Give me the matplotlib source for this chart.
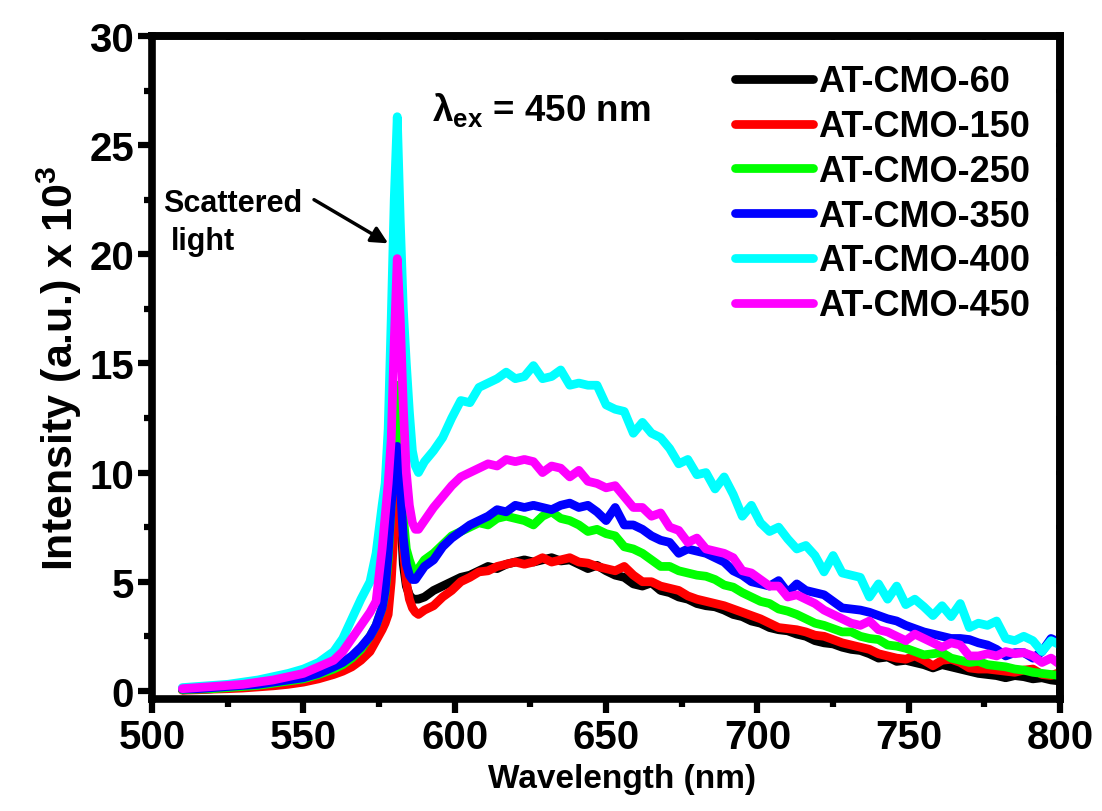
import numpy as np
import matplotlib
matplotlib.use("Agg")
import matplotlib.pyplot as plt
from matplotlib.ticker import MultipleLocator

plt.rcParams['font.family'] = ['Liberation Sans', 'DejaVu Sans']
plt.rcParams['font.weight'] = 'bold'
plt.rcParams['mathtext.fontset'] = 'custom'
plt.rcParams['mathtext.rm'] = 'Liberation Sans:bold'
plt.rcParams['mathtext.bf'] = 'Liberation Sans:bold'
plt.rcParams['mathtext.it'] = 'Liberation Sans:bold'
plt.rcParams['mathtext.default'] = 'bf'

# ---- data ----
wavelength = [510, 515, 520, 525, 530, 535, 540, 545, 550, 555,
              560, 563, 566, 569, 572, 574, 576, 577, 578, 579,
              580, 581, 582, 583, 584, 585, 586, 587, 588,
              590, 593, 596, 599, 602, 605, 608, 611, 614, 617,
              620, 623, 626, 629, 632, 635, 638, 641, 644, 647,
              650, 653, 656, 659, 662, 665, 668, 671, 674, 677,
              680, 683, 686, 689, 692, 695, 698, 701, 704, 707,
              710, 713, 716, 719, 722, 725, 728, 731, 734, 737,
              740, 743, 746, 749, 752, 755, 758, 761, 764, 767,
              770, 773, 776, 779, 782, 785, 788, 791, 794, 797,
              800]

at_cmo_60 = [0.05, 0.07, 0.1, 0.14, 0.18, 0.23, 0.3, 0.4, 0.5, 0.65,
             0.85, 1.05, 1.3, 1.6, 2.0, 2.5, 3.1, 3.6, 4.5, 6.5,
             9.5, 12.1, 8.5, 5.8, 4.8, 4.4, 4.2, 4.2, 4.2,
             4.3, 4.6, 4.8, 5.0, 5.2, 5.3, 5.5, 5.7, 5.6, 5.8,
             5.9, 6.0, 5.9, 6.0, 6.1, 5.95, 6.0, 5.8, 5.6, 5.75,
             5.5, 5.3, 5.2, 4.9, 4.8, 4.95, 4.6, 4.5, 4.3, 4.2,
             4.0, 3.9, 3.85, 3.7, 3.5, 3.4, 3.2, 3.1, 2.9, 2.8,
             2.75, 2.6, 2.5, 2.3, 2.2, 2.15, 2.0, 1.9, 1.85, 1.7,
             1.5, 1.55, 1.35, 1.4, 1.3, 1.2, 1.05, 1.2, 1.1, 1.0,
             0.9, 0.8, 0.75, 0.7, 0.6, 0.7, 0.65, 0.55, 0.6, 0.5,
             0.45]

at_cmo_150 = [0.03, 0.05, 0.08, 0.1, 0.13, 0.18, 0.23, 0.3, 0.4, 0.55,
              0.75, 0.9, 1.1, 1.4, 1.8, 2.3, 2.8, 3.1, 3.5, 5.0,
              7.5, 9.3, 9.0, 6.5, 5.0, 4.2, 3.8, 3.6, 3.5,
              3.7, 3.9, 4.3, 4.6, 5.0, 5.2, 5.45, 5.5, 5.7, 5.8,
              5.9, 5.8, 5.9, 6.1, 5.9, 6.0, 6.1, 5.9, 5.85, 5.7,
              5.6, 5.5, 5.7, 5.3, 5.0, 5.0, 4.8, 4.7, 4.6, 4.35,
              4.2, 4.1, 4.0, 3.9, 3.75, 3.6, 3.45, 3.3, 3.1, 2.9,
              2.85, 2.8, 2.7, 2.55, 2.5, 2.35, 2.2, 2.1, 2.0, 1.9,
              1.7, 1.6, 1.5, 1.45, 1.6, 1.4, 1.15, 1.4, 1.45, 1.3,
              1.05, 1.0, 1.0, 0.95, 0.9, 0.85, 0.95, 1.0, 0.75, 0.7,
              0.85]

at_cmo_250 = [0.05, 0.08, 0.1, 0.15, 0.2, 0.25, 0.35, 0.45, 0.55, 0.75,
              1.0, 1.2, 1.5, 1.9, 2.5, 3.0, 3.8, 4.5, 6.0, 8.5,
              12.0, 14.0, 11.0, 8.0, 6.5, 6.0, 5.6, 5.5, 5.6,
              6.0, 6.3, 6.7, 7.1, 7.3, 7.5, 7.7, 7.6, 7.9, 8.0,
              7.9, 7.8, 7.6, 8.0, 8.2, 7.9, 7.8, 7.6, 7.3, 7.4,
              7.2, 7.1, 6.6, 6.5, 6.3, 6.0, 5.7, 5.7, 5.5, 5.4,
              5.3, 5.25, 5.1, 4.85, 4.75, 4.5, 4.3, 4.1, 4.0, 3.75,
              3.65, 3.5, 3.3, 3.1, 3.0, 2.85, 2.7, 2.7, 2.5, 2.4,
              2.35, 2.1, 2.05, 1.95, 1.8, 1.65, 1.7, 1.75, 1.5, 1.4,
              1.3, 1.35, 1.2, 1.15, 1.1, 1.0, 0.95, 0.85, 0.8, 0.75,
              0.7]

at_cmo_350 = [0.08, 0.1, 0.15, 0.2, 0.25, 0.3, 0.4, 0.5, 0.6, 0.8,
              1.1, 1.3, 1.6, 2.0, 2.5, 3.0, 3.8, 4.6, 6.3, 8.5,
              10.3, 11.2, 9.5, 7.0, 5.8, 5.3, 5.1, 5.1, 5.3,
              5.7, 6.0, 6.6, 7.0, 7.3, 7.6, 7.8, 8.0, 8.3, 8.2,
              8.5, 8.4, 8.5, 8.4, 8.3, 8.5, 8.6, 8.4, 8.5, 8.2,
              7.8, 8.4, 7.6, 7.6, 7.4, 7.1, 6.9, 6.8, 6.3, 6.5,
              6.4, 6.3, 6.1, 5.9, 5.5, 5.3, 5.0, 4.9, 4.8, 5.05,
              4.5, 4.9, 4.6, 4.5, 4.4, 4.1, 3.8, 3.75, 3.7, 3.6,
              3.45, 3.3, 3.2, 3.0, 2.85, 2.7, 2.6, 2.5, 2.4, 2.4,
              2.35, 2.2, 2.1, 1.9, 1.6, 1.75, 1.75, 1.5, 1.8, 2.4,
              2.2]

at_cmo_400 = [0.15, 0.2, 0.25, 0.3, 0.4, 0.5, 0.65, 0.8, 1.0, 1.3,
              1.8, 2.4, 3.3, 4.2, 5.0, 6.3, 8.5, 9.5, 12.0, 17.0,
              22.5, 26.3, 21.5, 17.5, 15.0, 12.8, 11.0, 10.3, 10.0,
              10.5, 11.0, 11.6, 12.5, 13.3, 13.2, 13.9, 14.1, 14.3, 14.6,
              14.3, 14.4, 14.9, 14.3, 14.4, 14.7, 14.0, 14.1, 14.0, 14.0,
              13.1, 12.9, 12.8, 11.8, 12.3, 11.8, 11.6, 11.1, 10.4, 10.6,
              9.9, 10.0, 9.25, 9.8, 9.0, 8.0, 8.5, 7.7, 7.3, 7.5,
              6.96, 6.5, 6.66, 6.2, 5.45, 6.2, 5.4, 5.3, 5.2, 4.3,
              4.9, 4.2, 4.8, 3.95, 4.2, 3.85, 3.45, 3.9, 3.4, 4.0,
              2.9, 3.1, 3.0, 3.2, 2.4, 2.3, 2.5, 2.3, 1.8, 2.3,
              2.1]

at_cmo_450 = [0.1, 0.15, 0.2, 0.25, 0.3, 0.4, 0.5, 0.65, 0.8, 1.1,
              1.4, 1.8, 2.4, 3.0, 3.6, 4.1, 6.5, 8.0, 9.5, 11.5,
              16.0, 19.8, 17.0, 13.0, 10.0, 8.5, 7.7, 7.4, 7.4,
              7.8, 8.4, 8.9, 9.4, 9.8, 10.0, 10.2, 10.4, 10.3, 10.6,
              10.5, 10.6, 10.5, 10.0, 10.3, 10.2, 9.8, 10.1, 9.6, 9.5,
              9.3, 9.4, 8.9, 8.4, 8.4, 8.0, 8.15, 7.5, 7.35, 6.8,
              7.0, 6.5, 6.4, 6.3, 6.1, 5.5, 5.4, 5.1, 4.8, 4.8,
              4.3, 4.4, 4.2, 4.0, 3.7, 3.5, 3.3, 3.1, 3.0, 3.2,
              2.8, 2.7, 2.5, 2.3, 2.6, 2.4, 2.2, 2.0, 2.2, 2.1,
              1.6, 1.6, 1.7, 1.6, 1.8, 1.7, 1.75, 1.6, 1.3, 1.5,
              1.2]

series_labels = ['AT-CMO-60', 'AT-CMO-150', 'AT-CMO-250',
                 'AT-CMO-350', 'AT-CMO-400', 'AT-CMO-450']
series_values = [at_cmo_60, at_cmo_150, at_cmo_250,
                 at_cmo_350, at_cmo_400, at_cmo_450]
series_colors = ['#000000', '#ff0000', '#00ff00', '#0000ff', '#00ffff', '#ff00ff']

x_ticks = [500, 550, 600, 650, 700, 750, 800]
y_ticks = [0, 5, 10, 15, 20, 25, 30]

# ---- figure ----
fig = plt.figure(figsize=(11.02, 8.12), dpi=100)
ax = fig.add_axes([0.138, 0.138, 0.824, 0.8165])

for vals, lab, col in zip(series_values, series_labels, series_colors):
    ax.plot(wavelength, vals, color=col, lw=6.3, label=lab,
            solid_joinstyle='round', solid_capstyle='round')

ax.set_xlim(500, 800)
ax.set_ylim(-0.37, 30)
ax.set_xticks(x_ticks)
ax.set_yticks(y_ticks)
ax.xaxis.set_minor_locator(MultipleLocator(25))
ax.yaxis.set_minor_locator(MultipleLocator(2.5))

for sp in ax.spines.values():
    sp.set_linewidth(5.5)

ax.tick_params(which='major', direction='out', length=10, width=4.5,
               labelsize=29, pad=3)
ax.tick_params(which='minor', direction='out', length=6, width=4.5)
ax.tick_params(axis='x', which='major', pad=4)
for lab in ax.get_xticklabels() + ax.get_yticklabels():
    lab.set_fontweight('bold')

secx = ax.secondary_xaxis('top')
secx.set_xticks([500, 525, 550, 575, 600, 625, 650, 675, 700, 725, 750, 775, 800])
secx.tick_params(direction='in', length=3, width=3, labeltop=False)
secx.spines['top'].set_linewidth(5.5)
secy = ax.secondary_yaxis('right')
secy.set_yticks([0, 2.5, 5, 7.5, 10, 12.5, 15, 17.5, 20, 22.5, 25, 27.5, 30])
secy.tick_params(direction='in', length=3, width=3, labelright=False)
secy.spines['right'].set_linewidth(5.5)

ax.set_xlabel('Wavelength (nm)', fontsize=24, fontweight='bold')
ax.xaxis.set_label_coords(0.518, -0.097)
ax.set_ylabel('Intensity (a.u.) x 10$^3$', fontsize=31, fontweight='bold')
ax.yaxis.set_label_coords(-0.075, 0.5)

leg = ax.legend(loc='upper left', bbox_to_anchor=(0.642, 0.957),
                frameon=False, fontsize=26, handlelength=2.15,
                handletextpad=0.15, labelspacing=0.27, borderpad=0,
                borderaxespad=0)
for t in leg.get_texts():
    t.set_fontweight('bold')
for h in leg.get_lines():
    h.set_solid_capstyle('round')

ax.text(592.5, 26.15, 'λ$_{ex}$ = 450 nm', fontsize=26.5, fontweight='bold',
        ha='left', va='baseline')

ax.text(503.6, 22.0, 'Scattered', fontsize=22, fontweight='bold',
        ha='left', va='baseline')
ax.text(506.3, 20.25, 'light', fontsize=22, fontweight='bold',
        ha='left', va='baseline')
ax.annotate('', xy=(578.0, 20.5), xytext=(553.5, 22.5),
            arrowprops=dict(arrowstyle='-|>', lw=2.5, color='black',
                            mutation_scale=25, shrinkA=0, shrinkB=0))

fig.savefig('out.png', dpi=100)
